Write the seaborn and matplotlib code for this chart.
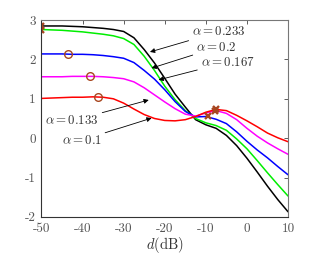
import numpy as np
import pandas as pd
import matplotlib
matplotlib.use('Agg')
import matplotlib.pyplot as plt
import seaborn as sns

# d (dB) sample positions
d_db = [-50, -47.5, -45, -42.5, -40, -37.5, -35, -32.5, -30, -27.5, -25, -22.5, -20,
        -17.5, -15, -12.5, -10, -7.5, -5, -2.5, 0, 2.5, 5, 7.5, 10]

alpha_233 = [2.85, 2.85, 2.85, 2.84, 2.83, 2.81, 2.79, 2.76, 2.71, 2.55, 2.25, 1.91, 1.52,
             1.12, 0.79, 0.47, 0.34, 0.25, 0.07, -0.19, -0.51, -0.86, -1.22, -1.56, -1.87]
alpha_2 = [2.76, 2.75, 2.74, 2.72, 2.70, 2.67, 2.64, 2.60, 2.53, 2.38, 2.08, 1.72, 1.32,
           0.98, 0.70, 0.50, 0.39, 0.32, 0.20, -0.02, -0.27, -0.57, -0.88, -1.18, -1.47]
alpha_167 = [2.14, 2.14, 2.14, 2.13, 2.13, 2.12, 2.10, 2.07, 2.03, 1.92, 1.72, 1.50, 1.23,
             0.93, 0.68, 0.54, 0.55, 0.48, 0.37, 0.16, -0.08, -0.30, -0.50, -0.72, -0.93]
alpha_133 = [1.56, 1.56, 1.56, 1.57, 1.57, 1.57, 1.56, 1.54, 1.51, 1.43, 1.28, 1.10, 0.92,
             0.75, 0.61, 0.56, 0.64, 0.70, 0.63, 0.47, 0.25, 0.05, -0.12, -0.27, -0.41]
alpha_1 = [1.01, 1.02, 1.03, 1.04, 1.04, 1.05, 1.04, 1.00, 0.89, 0.74, 0.60, 0.50, 0.45,
           0.44, 0.47, 0.55, 0.66, 0.73, 0.70, 0.58, 0.44, 0.29, 0.13, 0.01, -0.09]

labels = [r'$\alpha = 0.233$', r'$\alpha = 0.2$', r'$\alpha = 0.167$',
          r'$\alpha = 0.133$', r'$\alpha = 0.1$']
colors = ['#000000', '#00ee00', '#0000ff', '#ff00ff', '#ff0000']

# marked points
circ_x = [-43.5, -38.2, -36.3]
circ_y = [2.13, 1.57, 1.05]
cross_x = [-50, -50, -7.45, -7.7, -9.6]
cross_y = [2.85, 2.76, 0.73, 0.70, 0.56]

# annotation text / arrow tip positions (data coords)
ann_text_xy = [(-13.4, 2.70), (-12.4, 2.30), (-11.3, 1.93), (-36.0, 0.44), (-35.3, -0.05)]
ann_tip_xy = [(-23.6, 2.19), (-23.2, 1.78), (-21.5, 1.48), (-23.9, 0.97), (-23.2, 0.51)]
ann_ha = ['left', 'left', 'left', 'right', 'right']

sns.set_style('white')
plt.rcParams['font.family'] = 'serif'
plt.rcParams['font.serif'] = ['cmr10', 'DejaVu Serif']
plt.rcParams['mathtext.fontset'] = 'cm'
plt.rcParams['axes.unicode_minus'] = False
plt.rcParams['axes.formatter.use_mathtext'] = True

series = [alpha_233, alpha_2, alpha_167, alpha_133, alpha_1]
df = pd.concat([pd.DataFrame({'d': d_db, 'val': s, 'curve': lab})
                for s, lab in zip(series, labels)], ignore_index=True)

fig = plt.figure(figsize=(3.19, 2.54), dpi=100)
ax = fig.add_axes([0.130, 0.146, 0.773, 0.775])

sns.lineplot(data=df, x='d', y='val', hue='curve', palette=colors, hue_order=labels,
             sort=False, linewidth=1.1, legend=False, ax=ax)

mark_col = '#a8461f'
ax.plot(circ_x, circ_y, 'o', mfc='none', mec=mark_col, ms=5.5, mew=1.0)
ax.plot(cross_x, cross_y, 'x', color=mark_col, ms=5, mew=1.7)

for lab, txy, tip, ha in zip(labels, ann_text_xy, ann_tip_xy, ann_ha):
    ax.annotate(lab, xy=tip, xytext=txy, ha=ha, va='center', fontsize=9.3, color='#333333',
                arrowprops=dict(arrowstyle='-|>', color='k', lw=0.6, mutation_scale=7,
                                shrinkA=0, shrinkB=0))

ax.set_xlim(-50, 10)
ax.set_ylim(-2, 3)
ax.set_xticks([-50, -40, -30, -20, -10, 0, 10])
ax.set_yticks([-2, -1, 0, 1, 2, 3])
ax.set_xticklabels(['-50', '-40', '-30', '-20', '-10', '0', '10'])
ax.set_yticklabels(['-2', '-1', '0', '1', '2', '3'])
ax.tick_params(direction='in', length=3, width=0.6, top=True, right=True,
               labelsize=9.5, colors='#444444', labelcolor='#555555', pad=4)
for sp in ax.spines.values():
    sp.set_color('#333333')
    sp.set_linewidth(0.8)
ax.spines['top'].set_color('#777777')
ax.spines['right'].set_color('#777777')
ax.set_xlabel(r'$d$(dB)', fontsize=10.5, color='#333333', labelpad=0)
ax.set_ylabel('')

fig.savefig('out.png', dpi=100)
